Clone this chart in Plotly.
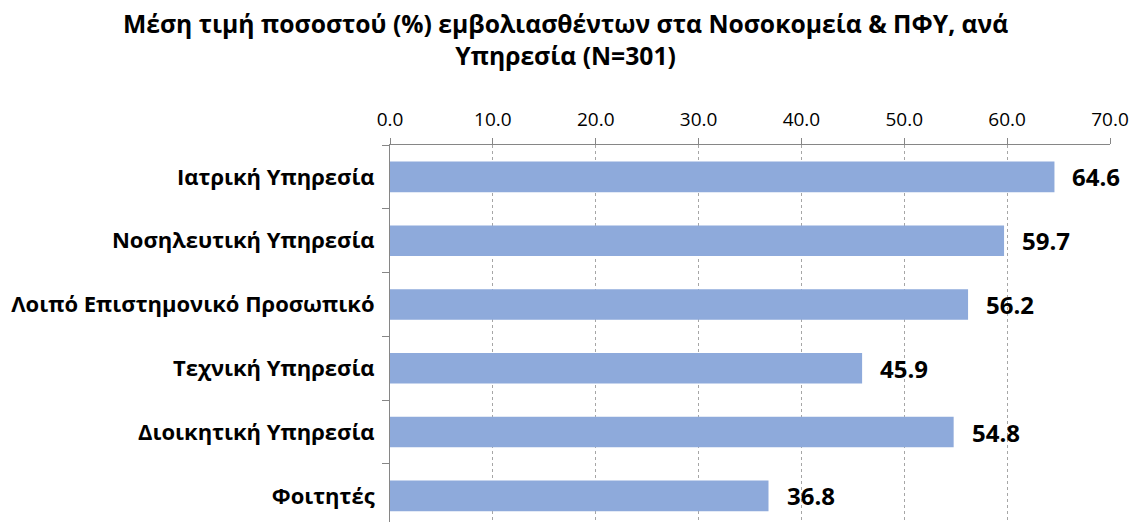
import plotly.graph_objects as go

categories = ["Ιατρική Υπηρεσία", "Νοσηλευτική Υπηρεσία", "Λοιπό Επιστημονικό Προσωπικό",
              "Τεχνική Υπηρεσία", "Διοικητική Υπηρεσία", "Φοιτητές"]
values = [64.6, 59.7, 56.2, 45.9, 54.8, 36.8]
tick_vals = [0, 10, 20, 30, 40, 50, 60, 70]

title_text = "Μέση τιμή ποσοστού (%) εμβολιασθέντων στα Νοσοκομεία & ΠΦΥ, ανά<br>Υπηρεσία (N=301)"

FONT = "Open Sans, Noto Sans, sans-serif"
W, H = 1131, 522
L, R, T, B = 390, 21, 145, 0
plot_w = W - L - R
plot_h = H - T - B

fig = go.Figure(go.Bar(
    y=categories, x=values, orientation="h",
    marker=dict(color="#8EAADB", line=dict(color="#8EAADB", width=0)),
    width=0.48, hoverinfo="x+y",
))

for c, v in zip(categories, values):
    fig.add_annotation(x=v, y=c, xref="x", yref="y", text=f"{v:.1f}",
                       showarrow=False, xanchor="left", yanchor="middle", xshift=16,
                       font=dict(family=FONT, size=24, color="black", weight="bold"))

fig.add_annotation(text=title_text, xref="paper", yref="paper",
                   x=(W / 2 - L) / plot_w, y=1 + (T - 5) / plot_h,
                   xanchor="center", yanchor="top", showarrow=False, align="center",
                   font=dict(family=FONT, size=24.7, color="black", weight="bold"))

fig.update_layout(
    width=W, height=H,
    margin=dict(l=L, r=R, t=T, b=B, autoexpand=False),
    paper_bgcolor="white", plot_bgcolor="white",
    showlegend=False,
)

fig.update_xaxes(side="top", range=[0, 70], tickvals=tick_vals, automargin=False,
                 tickformat=".1f", showgrid=True, gridcolor="#A6A6A6", griddash="dot",
                 gridwidth=1, showline=True, linecolor="#868686", linewidth=1,
                 ticks="outside", ticklen=6, tickcolor="#868686", ticklabelstandoff=4,
                 tickfont=dict(family=FONT, size=19, color="black"), zeroline=False)

fig.update_yaxes(range=[5.41, -0.5], showline=True, linecolor="#868686", linewidth=1,
                 automargin=False,
                 ticks="outside", tickson="boundaries", ticklen=7, tickcolor="#868686",
                 tickfont=dict(family=FONT, size=22, color="black", weight="bold"),
                 ticklabelstandoff=10, showgrid=False)

fig.write_html("out.html", config={"displayModeBar": False},
               post_script="document.body.style.margin='0';document.body.style.overflow='hidden';")
